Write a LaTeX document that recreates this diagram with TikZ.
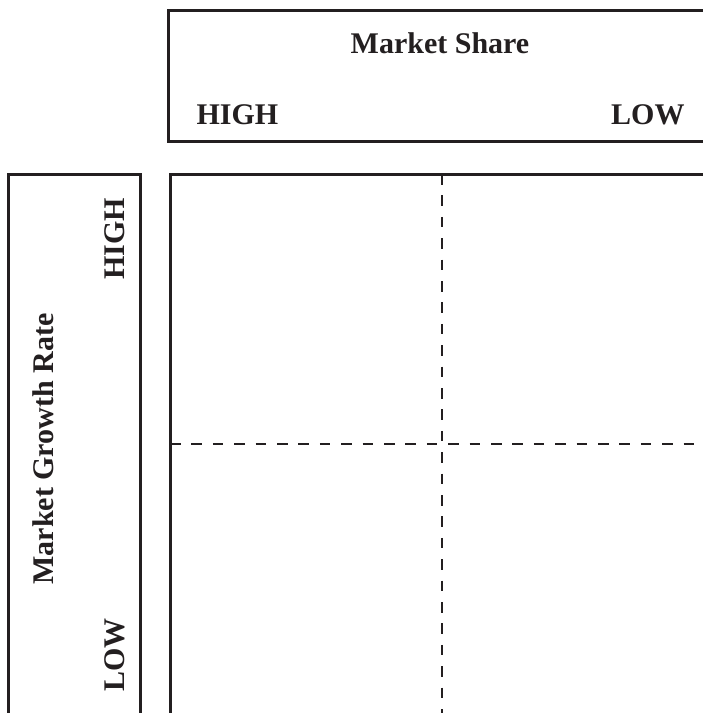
\documentclass[tikz,border=0pt]{standalone}
\usepackage{fontspec}
\setmainfont{Liberation Serif}
\usetikzlibrary{positioning}
\definecolor{ink}{RGB}{35,31,32}

\begin{document}
\begin{tikzpicture}[x=1pt, y=-1pt, line width=3pt, color=ink,
		label/.style={inner sep=0pt, text=ink, font=\fontsize{30}{36}\selectfont\bfseries},
		split/.style={line width=2.8pt, dash pattern=on 10.6pt off 10.8pt}]
		%%%%% START %%%%%
		
		\clip (0, 0) rectangle (703, 713);
		
		% frames
		\draw (168, 10) rectangle (720, 141);
		\draw (8, 174) rectangle (140, 730);
		\draw (170, 174) rectangle (720, 730);
		
		% header texts
		\node[label, anchor=base] (share) at (440, 53) {Market Share};
		\node[label, anchor=base west] (shareHigh) at (195, 124) {HIGH};
		\node[label, anchor=base east] (shareLow) at (686, 124) {LOW};
		
		\node[label, anchor=base, rotate=90] (growth) at (53, 449) {Market Growth Rate};
		\node[label, anchor=base, rotate=90] (growthHigh) at (124, 239) {HIGH};
		\node[label, anchor=base, rotate=90] (growthLow) at (124, 655) {LOW};
		
		% quadrant split
		\coordinate (midTop) at (442, 174);
		\coordinate (midBottom) at (442, 730);
		\coordinate (midLeft) at (170, 444);
		\coordinate (midRight) at (720, 444);
		\draw[split] (midTop) -- (midBottom);
		\draw[split] (midLeft) -- (midRight);
		
		%%%%% END %%%%%
	\end{tikzpicture}
\end{document}
